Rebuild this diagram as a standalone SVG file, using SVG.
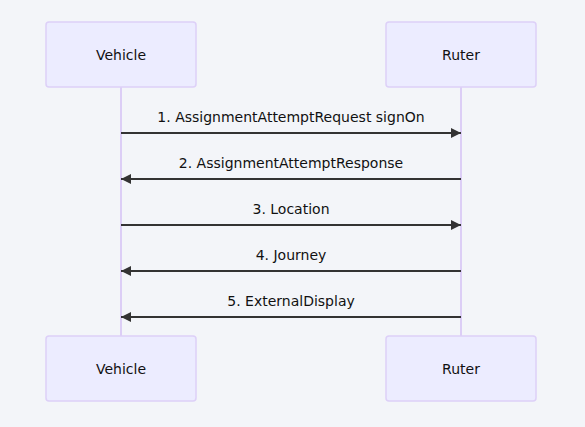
<svg xmlns="http://www.w3.org/2000/svg" width="585" height="427" viewBox="0 0 585 427">
<style>
.bg{fill:#f3f5f9}
.actor{fill:#ececff;stroke:#ddd0f8;stroke-width:1.5}
.life{stroke:#d6c5f5;stroke-width:1.6}
.msg{stroke:#333;stroke-width:1.8;fill:none}
text{font-family:"DejaVu Sans",sans-serif;font-size:14px;fill:#111;text-anchor:middle}
.atext{dominant-baseline:central}
</style>
<defs>
<marker id="ah" viewBox="0 0 10 10" refX="10" refY="5" markerWidth="11" markerHeight="10" markerUnits="userSpaceOnUse" orient="auto">
<path d="M0,0 L10,5 L0,10 z" fill="#333"/>
</marker>
</defs>
<rect class="bg" x="0" y="0" width="585" height="427"/>
<g id="lifelines">
<line class="life" x1="121" y1="87" x2="121" y2="336"/>
<line class="life" x1="461" y1="87" x2="461" y2="336"/>
</g>
<g id="vehicle-top"><rect class="actor" x="46" y="22" width="150" height="65" rx="3"/><text class="atext" x="121" y="54.5">Vehicle</text></g>
<g id="ruter-top"><rect class="actor" x="386" y="22" width="150" height="65" rx="3"/><text class="atext" x="461" y="54.5">Ruter</text></g>
<g id="vehicle-bottom"><rect class="actor" x="46" y="336" width="150" height="65" rx="3"/><text class="atext" x="121" y="368.5">Vehicle</text></g>
<g id="ruter-bottom"><rect class="actor" x="386" y="336" width="150" height="65" rx="3"/><text class="atext" x="461" y="368.5">Ruter</text></g>
<g id="connectors">
<line class="msg" x1="121" y1="133" x2="461" y2="133" marker-end="url(#ah)"/>
<line class="msg" x1="461" y1="179" x2="121" y2="179" marker-end="url(#ah)"/>
<line class="msg" x1="121" y1="225" x2="461" y2="225" marker-end="url(#ah)"/>
<line class="msg" x1="461" y1="271" x2="121" y2="271" marker-end="url(#ah)"/>
<line class="msg" x1="461" y1="317" x2="121" y2="317" marker-end="url(#ah)"/>
<text x="291" y="122">1. AssignmentAttemptRequest signOn</text>
<text x="291" y="168">2. AssignmentAttemptResponse</text>
<text x="291" y="214">3. Location</text>
<text x="291" y="260">4. Journey</text>
<text x="291" y="306">5. ExternalDisplay</text>
</g>
</svg>
